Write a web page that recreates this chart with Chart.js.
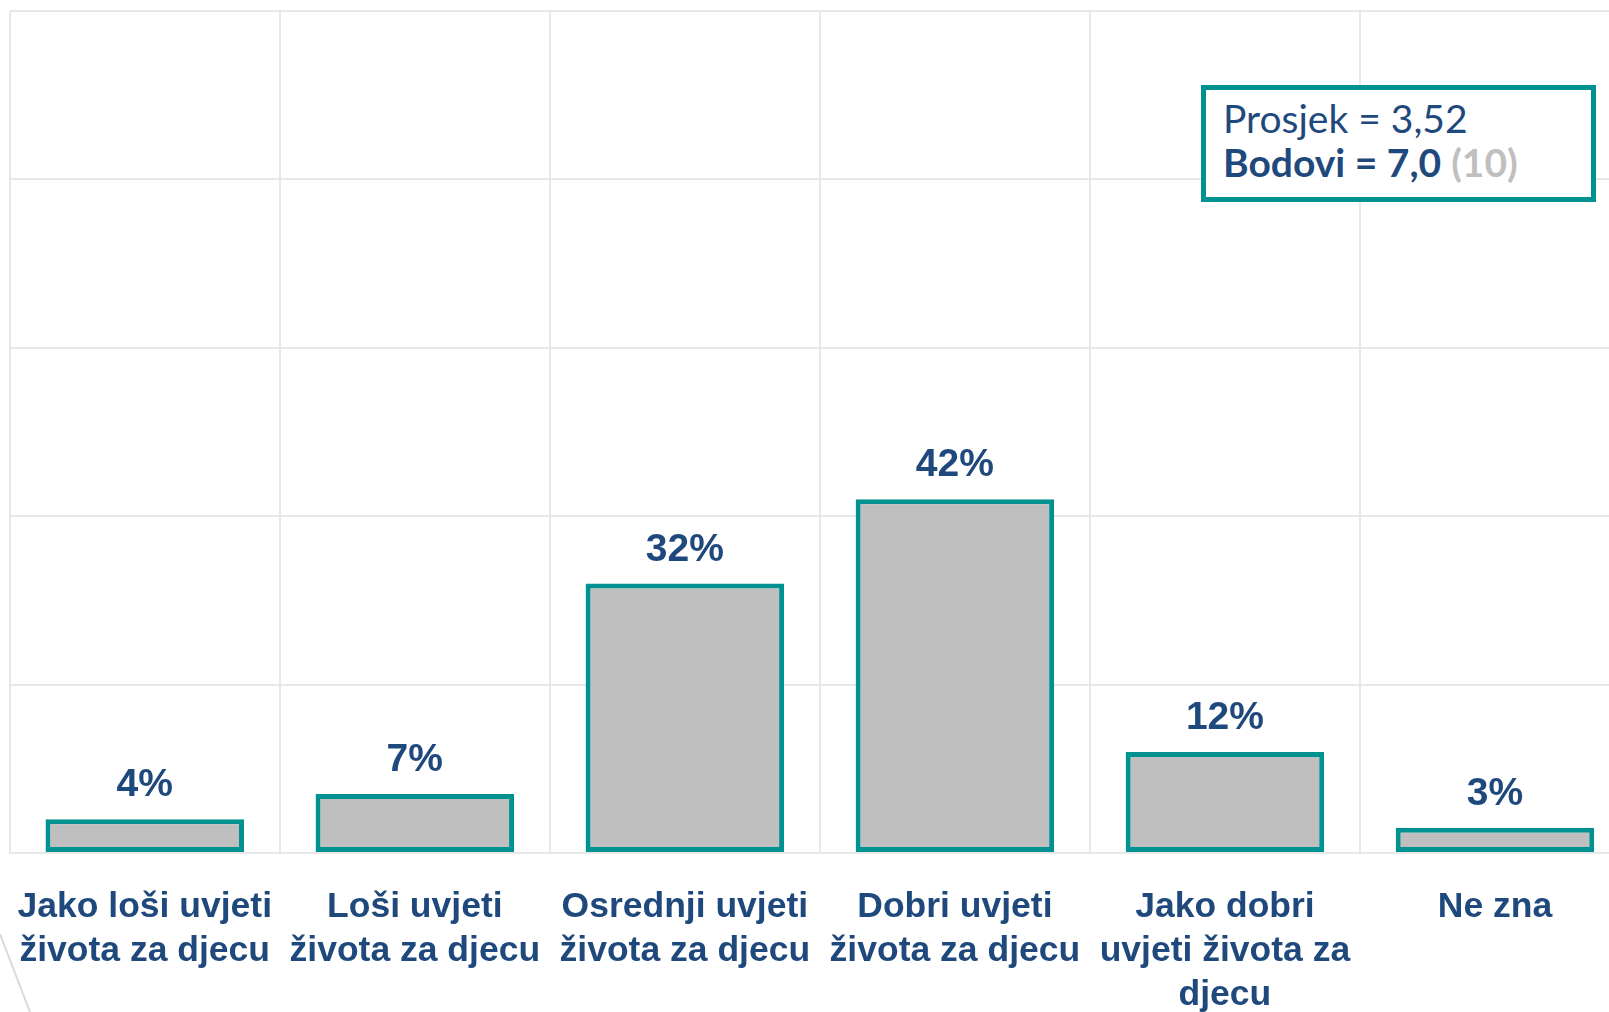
<!DOCTYPE html>
<html lang="hr">
<head>
    <meta charset="UTF-8">
    <title>Uvjeti života za djecu</title>
    <style>
        body {
            margin: 0;
            background-color: #ffffff;
            overflow: hidden;
            width: 1609px;
            height: 1012px;
            position: relative;
        }
        .wrap {
            position: absolute;
            left: -15px;
            top: 5px;
            width: 1655px;
            height: 1044px;
        }
        .infobox {
            position: absolute;
            left: 1201px;
            top: 85px;
            width: 395px;
            height: 117px;
            border: 5px solid #009191;
            background: #ffffff;
            box-sizing: border-box;
            font-family: 'Lato', sans-serif;
            font-size: 39px;
            color: #1F497D;
            line-height: 44px;
            padding: 6px 0 0 17px;
            white-space: nowrap;
        }
        .infobox b { font-weight: 700; }
        .infobox .muted { color: #BFBFBF; font-weight: 700; }
        .deco {
            position: absolute;
            left: 0;
            top: 930px;
        }
    </style>
    <script src="https://cdn.jsdelivr.net/npm/chart.js"></script>
</head>
<body>
    <div class="wrap"><canvas id="myChart" width="1655" height="1044"></canvas></div>
    <svg class="deco" width="40" height="82"><line x1="0" y1="4" x2="30" y2="82" stroke="#D9D9D9" stroke-width="2"/></svg>
    <div class="infobox">Prosjek = 3,52<br><b>Bodovi = 7,0</b> <span class="muted">(10)</span></div>
    <script>
        const categories = [
            ['Jako loši uvjeti', 'života za djecu'],
            ['Loši uvjeti', 'života za djecu'],
            ['Osrednji uvjeti', 'života za djecu'],
            ['Dobri uvjeti', 'života za djecu'],
            ['Jako dobri', 'uvjeti života za', 'djecu'],
            ['Ne zna']
        ];
        const shares = [4, 7, 32, 42, 12, 3];

        const navy = '#1F497D';
        const teal = '#009191';
        const gridGray = '#E8E8E8';

        // value labels above bars
        const barLabels = {
            id: 'barLabels',
            afterDatasetsDraw(chart) {
                const ctx = chart.ctx;
                const meta = chart.getDatasetMeta(0);
                ctx.save();
                ctx.font = 'bold 39px "Liberation Sans", Arial, sans-serif';
                ctx.fillStyle = navy;
                ctx.textAlign = 'center';
                ctx.textBaseline = 'alphabetic';
                meta.data.forEach((bar, i) => {
                    ctx.fillText(shares[i] + '%', bar.x, bar.y - 23);
                });
                ctx.restore();
            }
        };

        new Chart(document.getElementById('myChart'), {
            type: 'bar',
            data: {
                labels: categories,
                datasets: [{
                    data: shares,
                    backgroundColor: '#BFBFBF',
                    borderColor: teal,
                    borderWidth: 5,
                    borderSkipped: false,
                    barPercentage: 0.735,
                    categoryPercentage: 1
                }]
            },
            options: {
                responsive: false,
                animation: false,
                layout: { padding: { left: 6, right: 10, top: 6, bottom: 0 } },
                plugins: {
                    legend: { display: false },
                    tooltip: { enabled: false }
                },
                scales: {
                    x: {
                        grid: { color: gridGray, lineWidth: 2, drawTicks: false, offset: true },
                        border: { color: gridGray, width: 2 },
                        ticks: {
                            color: navy,
                            font: { family: '"Liberation Sans", Arial, sans-serif', size: 35.5, weight: 'bold', lineHeight: 1.24 },
                            padding: 32,
                            maxRotation: 0,
                            minRotation: 0,
                            autoSkip: false
                        }
                    },
                    y: {
                        min: 0,
                        max: 100,
                        grid: { color: gridGray, lineWidth: 2, drawTicks: false },
                        border: { display: false },
                        ticks: { display: false, stepSize: 20 }
                    }
                }
            },
            plugins: [barLabels]
        });
    </script>
</body>
</html>
